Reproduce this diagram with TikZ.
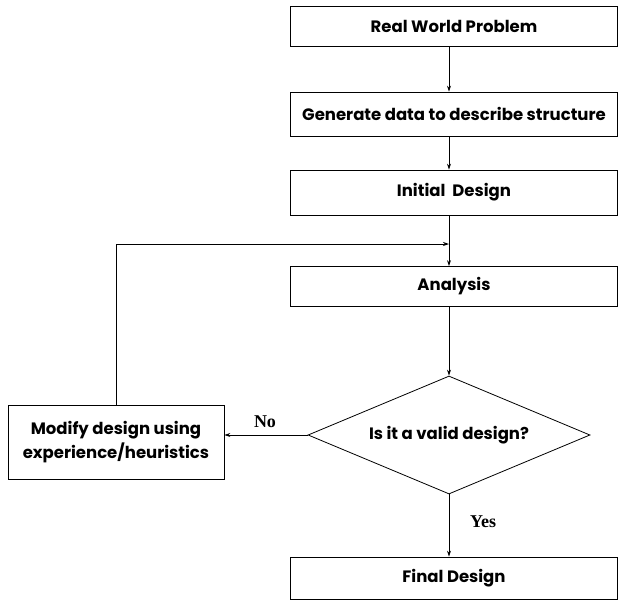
\documentclass[tikz,border=0pt]{standalone}
\usepackage{fontspec}
\setmainfont{Liberation Serif}
\newfontfamily\boxfont{Poppins}
\usetikzlibrary{shapes.geometric,arrows.meta}

\tikzset{
	box/.style={draw, line width=0.8pt, minimum width=327pt, inner sep=0pt, font=\boxfont\bfseries\fontsize{16.5}{24}\selectfont, align=center},
	arr/.style={draw, line width=0.8pt, -{Stealth[length=6pt,width=4pt]}},
	lbl/.style={font=\bfseries\fontsize{18}{20}\selectfont}
}

\begin{document}
\begin{tikzpicture}[x=1pt, y=-1pt]
	
		\useasboundingbox (0,0) rectangle (619,603);
		
		%Kaesten
		\node[box, minimum height=40pt] (real) at (454,26) {Real World Problem};
		\node[box, minimum height=44pt] (gen) at (454,114) {Generate data to describe structure};
		\node[box, minimum height=45pt] (init) at (454,192.5) {Initial\ \ Design};
		\node[box, minimum height=40pt] (ana) at (454,286.5) {Analysis};
		\node[box, minimum height=42pt] (fin) at (454,578) {Final Design};
		\node[box, minimum width=216pt, minimum height=74pt] (mod) at (116,442) {Modify design using\\experience/heuristics};
		
		%Raute
		\node[draw, line width=0.8pt, diamond, aspect=2.4, inner sep=0pt, minimum width=282pt, minimum height=118pt, font=\boxfont\bfseries\fontsize{16.5}{19}\selectfont] (dia) at (449,435) {Is it a valid design?};
		
		%Pfeile
		\foreach \a/\b in {real/gen, gen/init, init/ana, ana/dia} {
			\draw[arr] (\a.south -| dia.north) -- (\b.north -| dia.north);
		}
		\draw[arr] (dia.south) -- (fin.north -| dia.south);
		\draw[arr] (dia.west) -- (mod.east |- dia.west);
		
		%Rueckfuehrung
		\coordinate (join) at (449,244);
		\draw[arr] (mod.north) |- (join);
		
		\node[lbl] (no) at (265,422) {No};
		\node[lbl] (yes) at (483,522) {Yes};
	\end{tikzpicture}
\end{document}
